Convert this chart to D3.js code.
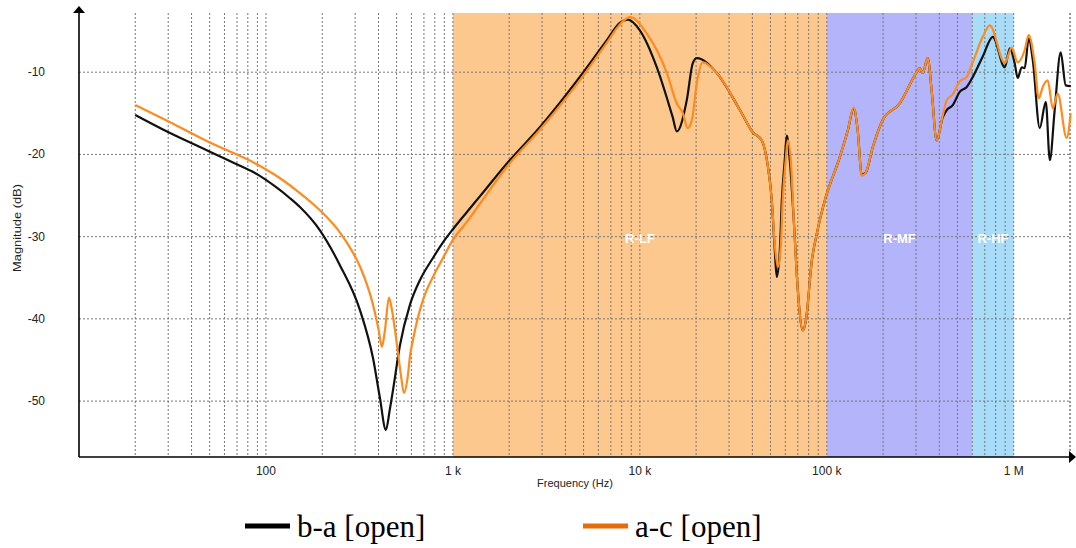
<!DOCTYPE html>
<html><head><meta charset="utf-8">
<script src="https://cdn.jsdelivr.net/npm/d3@7"></script>
<style>html,body{margin:0;padding:0;background:#fff}</style>
</head><body>
<svg id="chart" width="1076" height="548"></svg>
<script>
// ---------- data ----------
const freqBA = [20,30.7,49.5,68.4,89.5,112,134,152,194,249,318,374,407,438,460,478,521,589,666,782,885,1000,1189,1394,1945,2918,4955,6663,7816,8630,10000,12330,15000,15770,17830,19200,20170,25800,34300,40200,44900,48300,50800,52700,54000,56100,57500,59600,61100,63400,66600,70000,74500,77300,83200,88500,97600,117500,129500,139300,146400,153800,161700,176300,199200,245600,302700,314000,325900,346600,363800,387000,416900,438100,471900,514200,560500,603500,682800,772700,895700,952400,1012000,1050000,1104000,1145000,1202000,1264000,1378000,1484000,1560000,1656000,1783000,1897000,2020000];
const magBA  = [-15.2,-17.4,-19.6,-21.1,-22.4,-23.9,-25.3,-26.4,-29.2,-33.5,-38.9,-44.8,-49.6,-53.5,-51.0,-48.7,-43.2,-38.3,-35.3,-32.6,-30.7,-29.1,-27.0,-25.1,-21.1,-16.7,-10.1,-6.1,-4.0,-3.6,-4.9,-9.4,-15.5,-17.2,-13.4,-8.9,-8.3,-10.1,-14.6,-17.3,-18.3,-21.3,-25.6,-31.6,-34.9,-31.6,-25.6,-20.7,-17.7,-20.7,-28.0,-36.5,-41.4,-40.2,-32.9,-29.6,-25.6,-20.3,-17.1,-14.4,-17.1,-22.5,-22.2,-19.1,-15.8,-13.8,-10.0,-9.5,-10.1,-8.3,-12.2,-18.3,-15.5,-14.6,-14.0,-12.4,-11.8,-10.6,-8.1,-5.7,-9.4,-7.1,-8.9,-10.7,-9.4,-9.5,-5.9,-8.5,-16.8,-13.6,-20.7,-14.6,-7.6,-11.6,-11.7];
const freqAC = [20,30.7,49.5,89.5,119,152,178,209,249,281,318,374,401,417,433,455,472,501,527,547,575,589,611,692,782,885,1000,1189,1394,1945,2918,4955,6663,7816,8850,10900,13960,15770,17000,18000,19000,20170,21700,25800,34300,40200,44900,48300,50800,52700,54800,56800,58100,60300,61800,64200,66600,70000,74500,77300,83200,88500,97600,117500,129500,139300,146400,153800,161700,176300,199200,245600,302700,314000,325900,346600,363800,387000,416900,438100,471900,514200,560500,603500,682800,745000,895700,975000,1050000,1145000,1202000,1294000,1361000,1429000,1520000,1618000,1718000,1919000,2017000];
const magAC  = [-14.0,-16.1,-18.5,-21.2,-22.9,-24.7,-26.0,-27.5,-29.5,-31.3,-33.6,-38.3,-41.4,-43.4,-41.4,-37.4,-38.9,-43.0,-46.8,-49.0,-46.8,-44.6,-42.6,-37.7,-34.9,-32.6,-30.4,-28.2,-26.0,-21.5,-17.0,-10.5,-6.4,-4.2,-3.3,-5.3,-10.1,-13.8,-15.0,-16.8,-15.8,-11.3,-8.8,-10.1,-14.6,-17.3,-18.3,-21.3,-25.6,-31.0,-33.7,-31.0,-25.6,-20.7,-18.3,-20.7,-28.0,-36.5,-41.4,-40.2,-32.9,-29.6,-25.6,-20.3,-17.1,-14.3,-17.1,-22.6,-22.2,-19.1,-15.8,-13.8,-10.0,-9.5,-10.1,-8.3,-12.2,-18.3,-15.3,-13.4,-12.7,-11.1,-10.6,-8.8,-5.7,-4.3,-8.9,-7.0,-8.8,-7.3,-5.5,-8.9,-13.2,-11.8,-11.0,-14.4,-12.6,-18.0,-15.0];
const seriesNames = ["b-a [open]", "a-c [open]"];
const regionNames = ["R-LF", "R-MF", "R-HF"];
const regionStart = [1e3, 1e5, 6e5];
const regionEnd   = [1e5, 6e5, 1e6];
const yTicks = [-10, -20, -30, -40, -50];
const xTickValues = [100, 1e3, 1e4, 1e5, 1e6];
const xTickLabels = ["100", "1 k", "10 k", "100 k", "1 M"];

// ---------- layout ----------
const svg = d3.select("#chart");
const L = 79, R = 1070, T = 13, B = 457;
const x = d3.scaleLog().domain([10, 2e6]).range([L, R]);
const y = d3.scaleLinear().domain([-56.8, -2.8]).range([B, T]);
const regionColors = ["#FDC88E", "#B4B4FA", "#A8DCF8"];

// regions
const gReg = svg.append("g");
regionNames.forEach((n, i) => {
  gReg.append("rect").attr("x", x(regionStart[i])).attr("y", T)
    .attr("width", x(regionEnd[i]) - x(regionStart[i])).attr("height", B - T)
    .attr("fill", regionColors[i]);
});

// grid
const gridF = [];
for (let d = 10; d <= 1e6; d *= 10) for (let k = 1; k <= 9; k++) { const f = d * k; if (f > 10 && f <= 2e6) gridF.push(f); }
gridF.push(2e6);
const gGrid = svg.append("g").attr("stroke", "#777").attr("stroke-width", 1).attr("stroke-dasharray", "2,2");
gridF.forEach(f => gGrid.append("line").attr("x1", x(f)).attr("x2", x(f)).attr("y1", T).attr("y2", B));
yTicks.forEach(v => gGrid.append("line").attr("x1", L).attr("x2", R).attr("y1", y(v)).attr("y2", y(v)));

// region labels
regionNames.forEach((n, i) => {
  svg.append("text").attr("x", x(Math.sqrt(regionStart[i] * regionEnd[i]))).attr("y", y(-30) + 6)
    .attr("text-anchor", "middle").attr("font-family", "Liberation Sans, Arial, sans-serif")
    .attr("font-size", 13).attr("font-weight", "bold").attr("fill", "#fff").text(n);
});

// curves
const line = d3.line().x(d => x(d[0])).y(d => y(d[1])).curve(d3.curveMonotoneX);
svg.append("path").datum(freqBA.map((f, i) => [f, magBA[i]]))
  .attr("d", line).attr("fill", "none").attr("stroke", "#111").attr("stroke-width", 2.2).attr("stroke-linejoin", "round");
svg.append("path").datum(freqAC.map((f, i) => [f, magAC[i]]))
  .attr("d", line).attr("fill", "none").attr("stroke", "#FF8A1E").attr("stroke-width", 2.2).attr("stroke-linejoin", "round");

// axes
svg.append("line").attr("x1", L).attr("x2", L).attr("y1", 9).attr("y2", B).attr("stroke", "#000").attr("stroke-width", 1.6);
svg.append("line").attr("x1", L).attr("x2", 1072).attr("y1", B).attr("y2", B).attr("stroke", "#000").attr("stroke-width", 1.6);
svg.append("path").attr("d", `M${L - 6},${T} L${L + 6},${T} L${L},6 Z`).attr("fill", "#000");
svg.append("path").attr("d", `M1069,${B - 6} L1069,${B + 6} L1076,${B} Z`).attr("fill", "#000");

// tick labels
const fnt = "Liberation Sans, Arial, sans-serif";
yTicks.forEach(v => svg.append("text").attr("x", 45).attr("y", y(v) + 4).attr("text-anchor", "end")
  .attr("font-family", fnt).attr("font-size", 12).attr("fill", "#222").text(v));
xTickValues.forEach((v, i) => svg.append("text").attr("x", x(v)).attr("y", 475).attr("text-anchor", "middle")
  .attr("font-family", fnt).attr("font-size", 12).attr("fill", "#222").text(xTickLabels[i]));
svg.append("text").attr("x", 575).attr("y", 487).attr("text-anchor", "middle")
  .attr("font-family", fnt).attr("font-size", 11).attr("fill", "#222").text("Frequency (Hz)");
svg.append("text").attr("transform", "translate(21,228) rotate(-90)").attr("text-anchor", "middle")
  .attr("font-family", fnt).attr("font-size", 11).attr("fill", "#222")
  .attr("textLength", 88).attr("lengthAdjust", "spacingAndGlyphs").text("Magnitude (dB)");

// legend
const legColors = ["#000", "#E46C0A"];
const legX = [245, 583];
seriesNames.forEach((n, i) => {
  svg.append("line").attr("x1", legX[i]).attr("x2", legX[i] + 45).attr("y1", 526).attr("y2", 526)
    .attr("stroke", legColors[i]).attr("stroke-width", 5);
  svg.append("text").attr("x", legX[i] + 52).attr("y", 537).attr("font-family", "Liberation Serif, Times New Roman, serif")
    .attr("font-size", 31).attr("fill", "#000").text(n);
});
</script>
</body></html>
